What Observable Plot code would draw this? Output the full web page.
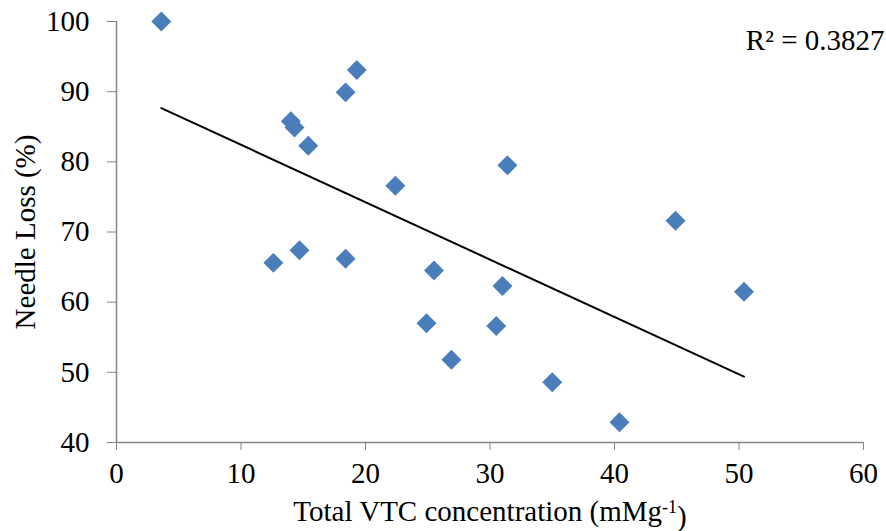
<!DOCTYPE html>
<html>
<head>
<meta charset="utf-8">
<script src="https://cdn.jsdelivr.net/npm/d3@7"></script>
<script src="https://cdn.jsdelivr.net/npm/@observablehq/plot@0.6"></script>
<style>
  html, body { margin: 0; padding: 0; background: #fff; }
  #chart svg { display: block; }
</style>
</head>
<body>
<div id="chart"></div>
<script>
const vtc  = [3.6, 19.3, 18.4, 14.0, 14.3, 15.4, 22.4, 31.4, 44.9, 12.6, 14.7, 18.4, 25.5, 31.0, 50.4, 24.9, 30.5, 26.9, 35.0, 40.4];
const loss = [100, 93.1, 89.9, 85.8, 84.9, 82.3, 76.6, 79.5, 71.6, 65.6, 67.4, 66.2, 64.5, 62.3, 61.5, 57.0, 56.6, 51.8, 48.6, 42.9];
const xTicks = [0, 10, 20, 30, 40, 50, 60];
const yTicks = [40, 50, 60, 70, 80, 90, 100];
const xTitle = "Total VTC concentration (mMg-1)";
const yTitle = "Needle Loss (%)";
const r2Label = "R² = 0.3827";

const data = vtc.map((v, i) => ({x: v, y: loss[i]}));
const axisColor = "#868686";
const font = "'Liberation Serif', 'Times New Roman', serif";
const fs = 29;

const chart = Plot.plot({
  width: 886,
  height: 531,
  marginLeft: 116,
  marginRight: 23,
  marginTop: 21,
  marginBottom: 89,
  style: {fontFamily: font, fontSize: fs + "px", color: "black", background: "white"},
  x: {domain: [0, 60]},
  y: {domain: [40, 100]},
  marks: [
    Plot.ruleX([0], {stroke: axisColor, strokeWidth: 1.5}),
    Plot.ruleY([40], {stroke: axisColor, strokeWidth: 1.5}),
    Plot.axisX({ticks: xTicks, tickSize: 8, tickPadding: 12, stroke: axisColor, fill: "black", label: null, fontSize: fs, fontFamily: font}),
    Plot.axisY({ticks: yTicks, tickSize: 9, tickPadding: 18, stroke: axisColor, fill: "black", label: null, fontSize: fs, fontFamily: font}),
    Plot.linearRegressionY(data, {x: "x", y: "y", ci: 0, stroke: "black", strokeWidth: 2}),
    Plot.dot(data, {x: "x", y: "y", symbol: "diamond2", r: 9, fill: "#4a7ebb", stroke: "none"}),
    Plot.text([r2Label], {frameAnchor: "top-right", textAnchor: "end", dx: 21, dy: 19, lineAnchor: "middle", fontSize: fs, fill: "black", fontFamily: font}),
    Plot.text([yTitle], {frameAnchor: "left", textAnchor: "middle", lineAnchor: "middle", dx: -91, rotate: -90, fontSize: fs, fill: "black", fontFamily: font}),
    Plot.text([xTitle], {frameAnchor: "bottom", textAnchor: "middle", dy: 69, lineAnchor: "middle", fontSize: fs, fill: "black", fontFamily: font})
  ]
});
document.getElementById("chart").appendChild(chart);

// superscript "-1" in the x-axis title
d3.select(chart).selectAll("text").each(function() {
  const t = d3.select(this);
  if (t.text() === xTitle) {
    t.text(null);
    t.append("tspan").text("Total VTC concentration (mMg");
    t.append("tspan").attr("dy", "-0.45em").attr("font-size", "18px").text("-1");
    t.append("tspan").attr("dy", "0.45em").text(")");
  }
});
</script>
</body>
</html>
